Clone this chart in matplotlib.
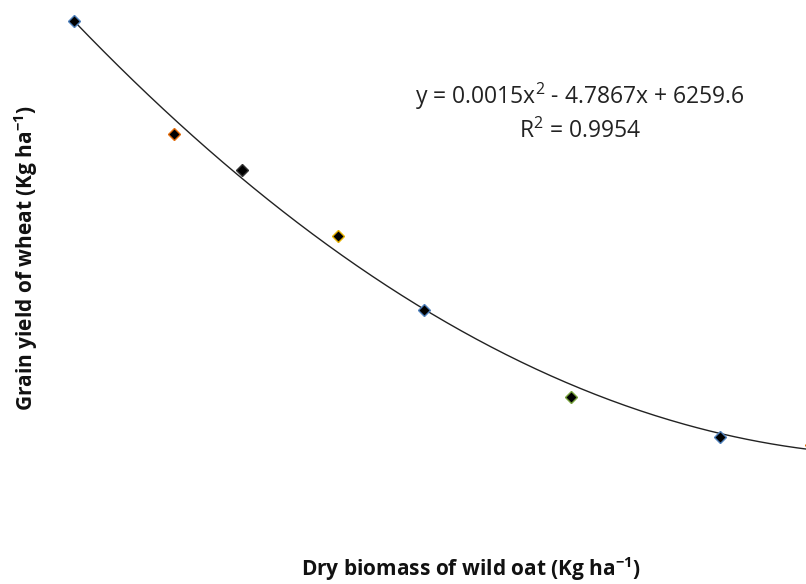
import numpy as np
import matplotlib.pyplot as plt

# dry biomass of wild oat (Kg ha-1) and grain yield of wheat (Kg ha-1)
biomass = [0, 191, 321, 505, 669, 950, 1235, 1410]
grain_yield = [6260, 5267, 4950, 4370, 3720, 2956, 2604, 2530]
edge_cols = ['#4f81bd', '#e46c0a', '#333333', '#e6b000', '#4f81bd', '#77a33c', '#4f81bd', '#e46c0a']

# quadratic trend line from the chart
a2, a1, a0 = 0.0015, -4.7867, 6259.6
eq_text = 'y = 0.0015x$^{2}$ - 4.7867x + 6259.6'
r2_text = 'R$^{2}$ = 0.9954'

plt.rcParams['font.family'] = ['Open Sans', 'DejaVu Sans']
plt.rcParams['mathtext.fontset'] = 'custom'
plt.rcParams['mathtext.rm'] = 'Open Sans'
plt.rcParams['mathtext.bf'] = 'Open Sans:bold'

W, H = 806, 584
fig = plt.figure(figsize=(W / 100, H / 100), dpi=100)
ax = fig.add_axes([0, 0, 1, 1])
ax.set_xlim(-141.5, 1400)
ax.set_ylim(1312.3, 6444.1)
ax.axis('off')

xs = np.linspace(0, 1420, 300)
ax.plot(xs, a2 * xs**2 + a1 * xs + a0, color='#222222', lw=1.0, zorder=1)

for xi, yi, ec in zip(biomass, grain_yield, edge_cols):
    ax.plot(xi, yi, marker='D', ms=6.5, mfc='black', mec=ec, mew=1.0, ls='none', zorder=2)

fig.text(580 / W, 1 - 104 / H, eq_text, ha='center', va='baseline', fontsize=16.5, color='#222222')
fig.text(580 / W, 1 - 138 / H, r2_text, ha='center', va='baseline', fontsize=16.5, color='#222222')

fig.text(471 / W, 1 - 576 / H, 'Dry biomass of wild oat (Kg ha$^{\\mathbf{-1}}$)',
         ha='center', va='baseline', fontsize=15, fontweight='bold', color='#111111')
fig.text(33 / W, 1 - 258 / H, 'Grain yield of wheat (Kg ha$^{\\mathbf{-1}}$)',
         ha='center', va='baseline', rotation=90, rotation_mode='anchor',
         fontsize=15, fontweight='bold', color='#111111')

fig.savefig('out.png', dpi=100)
